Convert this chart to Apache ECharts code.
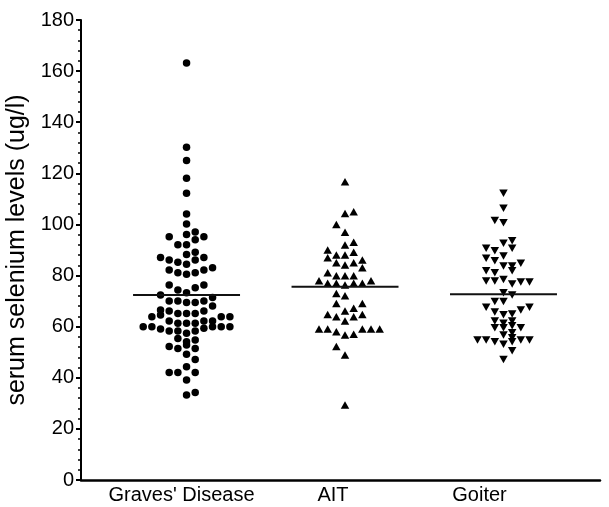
<!DOCTYPE html>
<html><head><meta charset="utf-8">
<script src="https://cdn.jsdelivr.net/npm/echarts@6/dist/echarts.min.js"></script>
<style>html,body{margin:0;padding:0;background:#fff}#c{width:609px;height:507px}</style>
</head><body><div id="c"></div>
<script>
const categories = ["Graves' Disease", "AIT", "Goiter"];
const yAxisTitle = "serum selenium levels (ug/l)";

const gravesValues = [163.2, 130.2,125.0,118.1,112.2,104.1,100.2, 95.2,96.1,97.0,95.2,94.0, 92.1,92.1, 88.2,89.1,
  87.1,86.1,85.2,84.4,86.1,87.1, 82.2,81.1,80.5,81.1,82.2,83.1, 76.3,74.3,73.3,75.2,76.3, 72.4,71.4,
  70.0,70.0,69.5,69.5,70.0,68.1, 66.5,63.9,64.6,66.1,65.2,65.2,65.2,66.1,63.9,63.9,
  60.0,60.0,59.1,62.2,61.3,61.3,61.3,62.2,62.2,60.0,60.0,60.0, 58.3,58.3,57.4,58.3,59.4,
  55.4,54.1,54.8, 52.2,51.5,52.8,51.5, 49.2,47.2, 44.3,42.1,42.1,42.1, 39.1, 33.3,34.2];
const gravesSlots = [0, 0,0,0,0,0,0, -2,0,1,2,1, -1,0, 0,1,
  -3,-2,-1,0,1,2, -2,-1,0,1,2,3, -2,-1,0,1,2, -3,3,
  -2,-1,0,1,2,3, -3,-4,-3,-2,-1,0,1,2,4,5,
  -5,-4,-3,-2,-1,0,1,2,3,3,4,5, -2,-1,0,1,2,
  -1,0,1, -2,-1,0,1, 0,1, 0,-2,-1,1, 0, 0,1];

const aitValues = [116.7, 104.3,105.0, 100.0, 96.9, 92.0,93.0, 90.0,87.0,88.0,88.0,89.1,
  85.0,84.1,85.0,86.1,83.1, 81.1,79.9,79.9,79.9, 78.0,77.0,77.0,76.3,77.0,77.0,78.0,
  73.0,72.1, 69.1,69.1,67.2,66.1,64.8,63.9,63.9,64.8,62.2,
  59.1,59.1,58.0,56.7,57.0,59.1,59.1,59.1, 52.2,48.9, 29.3];
const aitSlots = [0, 0,1, -1, 0, 0,1, -2,-2,-1,0,1,
  -1,0,1,2,2, -2,-1,0,1, -3,-2,-1,0,1,2,3,
  -1,0, -1,2,1,0,-2,-1,1,2,0,
  -3,-2,-1,0,1,2,3,4, -1,0, 0];

const goiterValues = [112.2, 106.3, 101.5,100.7, 93.6,92.6,90.7,90.7,89.7,
  87.7,86.8,85.8,84.8,83.7,83.7,81.9,81.9,81.1, 78.5, 77.9,77.9,76.7,77.5,77.5,
  73.3,72.4, 69.8,69.8, 67.6,65.7,64.7,65.0,66.5,67.6, 62.2,61.3,62.2,
  59.6,59.6,60.4,59.6, 56.7,57.6,55.7, 54.8,54.8,54.1,53.1,54.1,54.8,54.8, 50.6,47.2];
const goiterSlots = [0, 0, -1,0, 1,0,1,-2,-1,
  0,-2,-1,2,0,1,1,-2,-1, 0, -2,-1,1,2,3,
  0,1, -1,0, -2,-1,0,1,2,3, -1,0,1,
  -1,0,1,2, 0,1,1, -3,-2,-1,0,1,2,3, 1,0];

const groupMeans = [72.4, 75.6, 72.7];

// layout / style constants
const X_MIN = 0.334, X_MAX = 3.609;
const SLOT = 0.0547;      // horizontal spacing of swarm columns (axis units)
const HALF = 0.3375;      // half-length of the mean bar
const PLOT_W = 519;
const pxPerUnit = PLOT_W / (X_MAX - X_MIN);
const labelShiftPx = [-5, -12, -24];
const labelPos = categories.map((c, i) => (i + 1) + labelShiftPx[i] / pxPerUnit);
const FONT = "'Liberation Sans', Arial, Helvetica, sans-serif";

function pts(vals, slots, center) {
  return vals.map((v, i) => [center + slots[i] * SLOT, v]);
}
const groups = [
  {vals: gravesValues, slots: gravesSlots, symbol: 'circle', size: 7.5, rotate: 0},
  {vals: aitValues, slots: aitSlots, symbol: 'triangle', size: [8.5, 7.5], rotate: 0},
  {vals: goiterValues, slots: goiterSlots, symbol: 'triangle', size: [8.5, 7.5], rotate: 180}
];

const series = [];
groups.forEach((g, i) => {
  series.push({
    type: 'scatter', name: categories[i], data: pts(g.vals, g.slots, i + 1),
    symbol: g.symbol, symbolSize: g.size, symbolRotate: g.rotate,
    itemStyle: {color: '#000', opacity: 1}, silent: true, z: 3
  });
  series.push({
    type: 'line', data: [[i + 1 - HALF, groupMeans[i]], [i + 1 + HALF, groupMeans[i]]],
    symbol: 'none', lineStyle: {color: '#111', width: 2}, silent: true, z: 4
  });
});

const chart = echarts.init(document.getElementById('c'), null, {renderer: 'canvas'});
chart.setOption({
  animation: false,
  backgroundColor: '#fff',
  grid: {left: 81, right: 9, top: 20, bottom: 27, containLabel: false, outerBoundsMode: 'none'},
  xAxis: {
    type: 'value', min: X_MIN, max: X_MAX,
    axisLine: {show: true, onZero: false, lineStyle: {color: '#000', width: 2.5}},
    axisTick: {show: false},
    splitLine: {show: false},
    axisLabel: {
      customValues: labelPos, margin: 5, color: '#000', fontSize: 20, fontFamily: FONT,
      formatter: function (v) {
        for (let i = 0; i < labelPos.length; i++) if (Math.abs(labelPos[i] - v) < 1e-6) return categories[i];
        return '';
      }
    }
  },
  yAxis: {
    type: 'value', min: 0, max: 180, interval: 20,
    name: yAxisTitle, nameLocation: 'middle', nameGap: 45,
    nameTextStyle: {color: '#000', fontSize: 25, fontFamily: FONT},
    axisLine: {show: true, onZero: false, lineStyle: {color: '#000', width: 2}},
    axisTick: {show: true, length: 5, lineStyle: {color: '#000', width: 2}},
    minorTick: {show: true, splitNumber: 5, length: 3, lineStyle: {color: '#000', width: 1.5}},
    splitLine: {show: false},
    axisLabel: {margin: 7, color: '#000', fontSize: 20, fontFamily: FONT}
  },
  series: series
});
</script>
</body></html>
